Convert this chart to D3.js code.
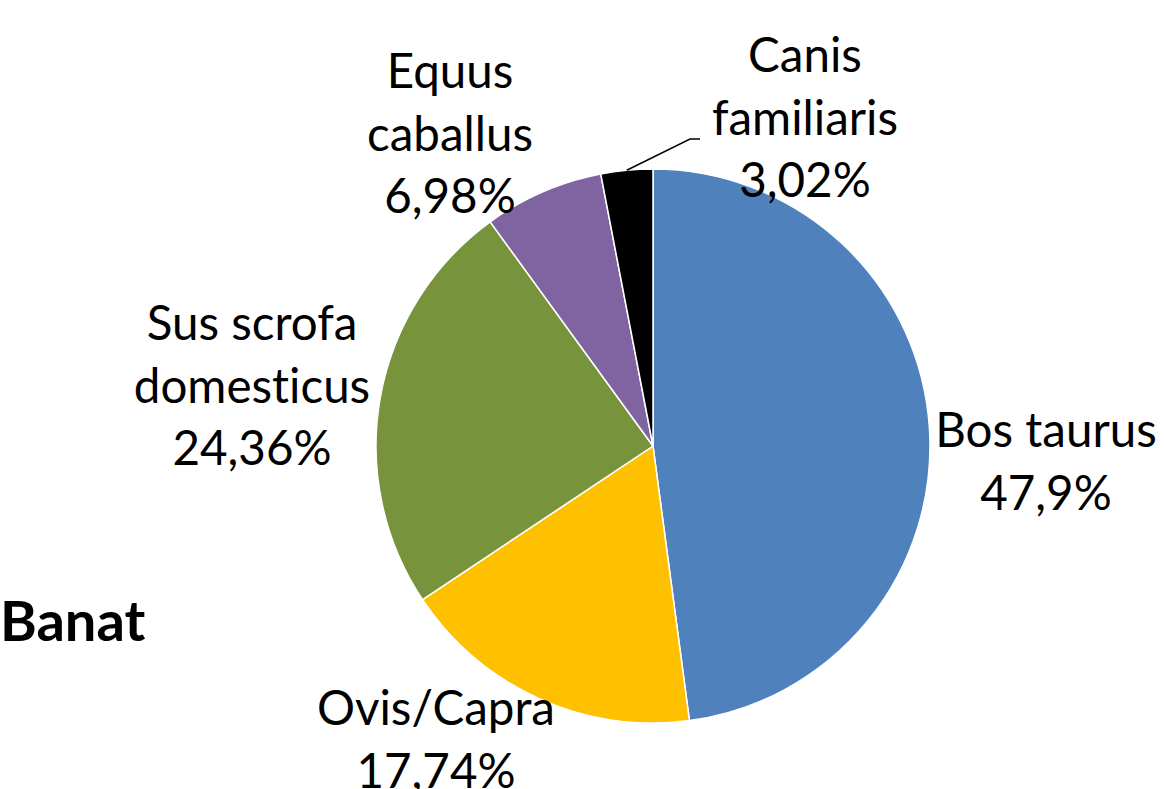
<!DOCTYPE html>
<html><head><meta charset="utf-8">
<script src="https://cdn.jsdelivr.net/npm/d3@7"></script>
<style>body{margin:0;background:#fff}svg{display:block}text{font-variant-ligatures:none;font-feature-settings:"liga" 0}</style>
</head><body>
<script>
const categories = ["Bos taurus", "Ovis/Capra", "Sus scrofa domesticus", "Equus caballus", "Canis familiaris"];
const values = [47.9, 17.74, 24.36, 6.98, 3.02];
const valueLabels = ["47,9%", "17,74%", "24,36%", "6,98%", "3,02%"];
const labelLines = [["Bos taurus"], ["Ovis/Capra"], ["Sus scrofa", "domesticus"], ["Equus", "caballus"], ["Canis", "familiaris"]];
const colors = ["#4F81BD", "#FFC000", "#77933C", "#8064A2", "#000000"];
const title = "Banat";

const W = 1165, H = 789;
const cx = 653, cy = 446, R = 277;
const font = "Lato, 'Open Sans', sans-serif";
const fs = 47.5, lh = 62.5;
// label anchor (center x, first baseline y)
const labelPos = [[1046, 447], [436, 725], [252, 340], [450, 88], [805, 72]];

const svg = d3.select("body").append("svg").attr("width", W).attr("height", H);
const pie = d3.pie().sort(null).value(d => d)(values);
const arc = d3.arc().innerRadius(0).outerRadius(R);
const g = svg.append("g").attr("transform", `translate(${cx},${cy})`);
g.selectAll("path").data(pie).join("path")
  .attr("d", arc).attr("fill", (d, i) => colors[i])
  .attr("stroke", "#fff").attr("stroke-width", 1.5);

// leader line for Canis
const canis = pie[4];
const mid = (canis.startAngle + canis.endAngle) / 2;
const p0 = [cx + Math.sin(mid) * R, cy - Math.cos(mid) * R];
svg.append("polyline")
  .attr("points", `${p0[0]},${p0[1]} 690,139 700,139`)
  .attr("fill", "none").attr("stroke", "#000").attr("stroke-width", 1.5);

labelLines.forEach((lines, i) => {
  const all = lines.concat([valueLabels[i]]);
  const t = svg.append("text").attr("text-anchor", "middle")
    .attr("font-family", font).attr("font-size", fs).attr("fill", "#000");
  all.forEach((s, j) => {
    t.append("tspan").attr("x", labelPos[i][0]).attr("y", labelPos[i][1] + j * lh).text(s);
  });
});

svg.append("text").attr("x", 0).attr("y", 641)
  .attr("font-family", font).attr("font-weight", "bold").attr("font-size", 56)
  .attr("fill", "#000").text(title);
</script>
</body></html>
